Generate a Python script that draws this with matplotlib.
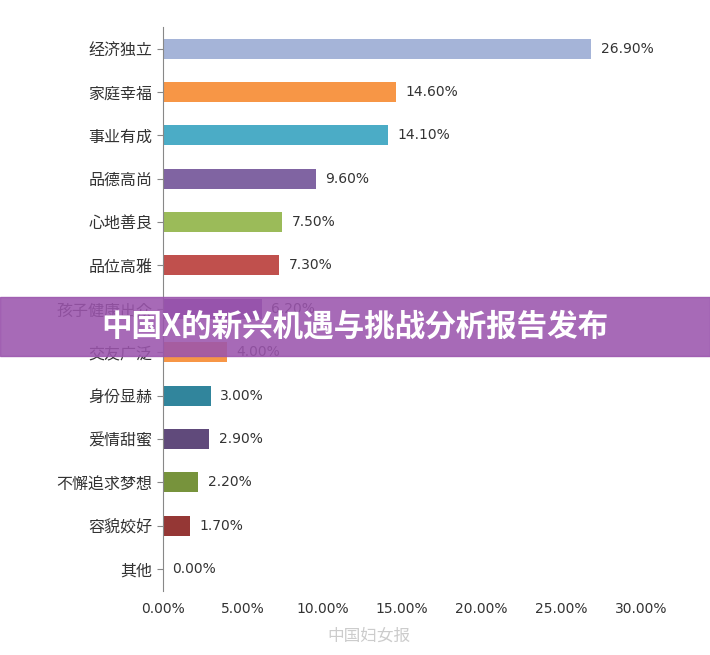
import matplotlib.pyplot as plt
from matplotlib import font_manager
from matplotlib.patches import Rectangle

cjk = [f.name for f in font_manager.fontManager.ttflist if "CJK" in f.name]
plt.rcParams["font.family"] = sorted(set(cjk), key=lambda n: "SC" not in n) + ["DejaVu Sans"]

categories = ["经济独立", "家庭幸福", "事业有成", "品德高尚", "心地善良", "品位高雅",
              "孩子健康出众", "交友广泛", "身份显赫", "爱情甜蜜", "不懈追求梦想", "容貌姣好", "其他"]
values = [26.9, 14.6, 14.1, 9.6, 7.5, 7.3, 6.2, 4.0, 3.0, 2.9, 2.2, 1.7, 0.0]
colors = ["#a5b4d8", "#f79646", "#4bacc6", "#8064a2", "#9bbb59", "#c0504d",
          "#7f54a8", "#f79646", "#31859c", "#604a7b", "#77933c", "#953735", "#4f81bd"]
xticks = [0, 5, 10, 15, 20, 25, 30]

fig = plt.figure(figsize=(7.1, 6.55), dpi=100)
ax = fig.add_axes([0.2296, 0.098, 0.673, 0.861])
y = list(range(len(categories)))
ax.barh(y, values, height=0.46, color=colors)
for yi, v in zip(y, values):
    ax.text(v + 0.6, yi, f"{v:.2f}%", va="center", fontsize=10, color="#333333",
            family="DejaVu Sans")
ax.set_yticks(y)
ax.set_yticklabels(categories, fontsize=11.5, color="#333333")
ax.set_ylim(len(categories) - 0.5, -0.5)
ax.set_xlim(0, 30)
ax.set_xticks(xticks)
ax.set_xticklabels([f"{t:.2f}%" for t in xticks], fontsize=10, family="DejaVu Sans", color="#333333")
for s in ["top", "right", "bottom"]:
    ax.spines[s].set_visible(False)
ax.spines["left"].set_color("#888888")
ax.tick_params(axis="y", length=4, color="#888888")
ax.tick_params(axis="x", length=0, pad=8)

# banner overlay
fig.patches.append(Rectangle((0, 1 - 356 / 655), 1, 59 / 655, transform=fig.transFigure,
                             color="#9b55ad", alpha=0.88, zorder=10))
fig.text(0.5, 1 - 327 / 655, "中国X的新兴机遇与挑战分析报告发布", ha="center", va="center",
         fontsize=22, weight="bold", color="white", zorder=11)
fig.text(0.52, 1 - 636 / 655, "中国妇女报", ha="center", va="center", fontsize=12,
         color="#cccccc", zorder=11)

fig.savefig("out.png", dpi=100)
